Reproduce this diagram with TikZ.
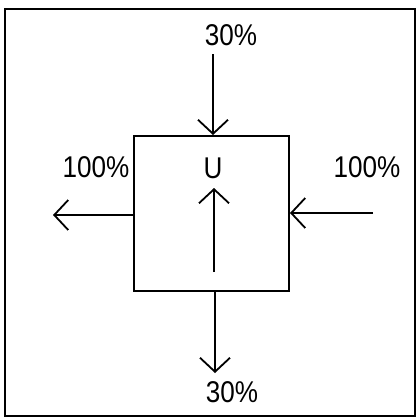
\documentclass[tikz,border=0pt]{standalone}
\usepackage{fontspec}
\setmainfont{Liberation Sans}
\usepackage{graphicx}
\usepackage{tikz}
\usetikzlibrary{arrows.meta, positioning}
\newcommand{\pcnt}[1]{\scalebox{0.87}[1]{#1}}

\begin{document}
\begin{tikzpicture}[x=1pt, y=-1pt,
  blk/.style={rectangle, draw, line width=2pt,
    minimum width=155pt, minimum height=155pt, inner sep=0pt},
  pct/.style={font=\fontsize{30pt}{33pt}\selectfont, inner sep=1pt},
  arr/.style={-{Straight Barb[length=14pt, width=30pt, line width=1.8pt]}, line width=1.8pt}
]
\useasboundingbox (0,0) rectangle (416,418);
% outer frame
\draw[line width=2.4pt] (5,9) rectangle (415,416);
% the unit
\node[blk] at (211.5,213.5) (unit) {};
\node[pct] at (213,168) (ulab) {\pcnt{U}};
% labels
\node[pct] at (231,35)  (intop) {\pcnt{30\%}};
\node[pct] at (232,392) (outbot) {\pcnt{30\%}};
\node[pct] at (96,167)  (outleft) {\pcnt{100\%}};
\node[pct] at (367,167) (inright) {\pcnt{100\%}};
% free ends
\coordinate (topend)   at (213,54);
\coordinate (botend)   at (215,373);
\coordinate (leftend)  at (53,215);
\coordinate (rightend) at (373,213);
\coordinate (upfrom)   at (214,272);
\coordinate (upto)     at (214,188);
% flows
\draw[arr] (topend) -- (unit.north -| topend);
\draw[arr] (unit.south -| botend) -- (botend);
\draw[arr] (unit.west |- leftend) -- (leftend);
\draw[arr] (rightend) -- (unit.east |- rightend);
\draw[arr] (upfrom) -- (upto);
\end{tikzpicture}
\end{document}
